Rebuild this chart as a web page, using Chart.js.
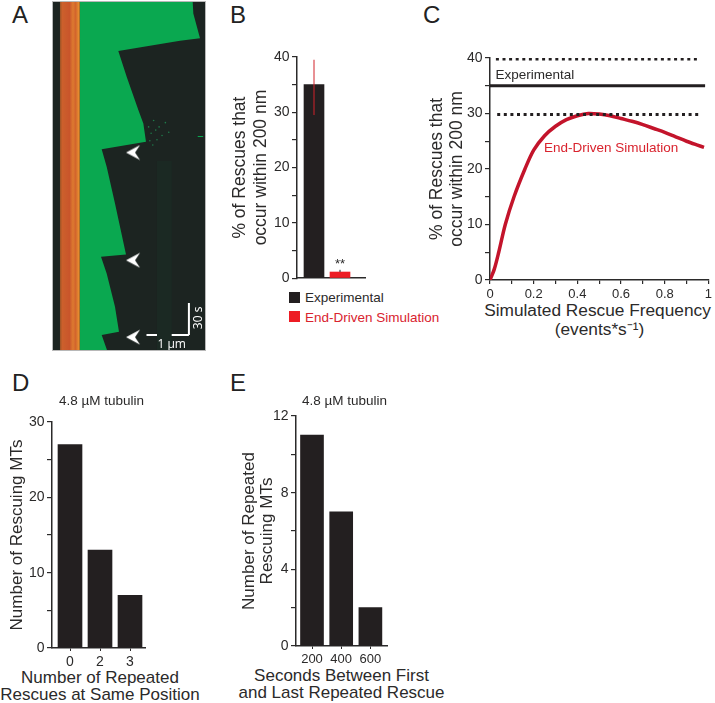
<!DOCTYPE html>
<html>
<head>
<meta charset="utf-8">
<title>Rescue position figure</title>
<script src="https://cdn.jsdelivr.net/npm/chart.js@4"></script>
<style>
    html, body { margin: 0; padding: 0; background: #fff; }
    body { position: relative; width: 715px; height: 703px; overflow: hidden; font-family: "Liberation Sans", Arial, sans-serif; color: #2b2a2a; }
    canvas { position: absolute; display: block; }
    .label { position: absolute; white-space: nowrap; line-height: 1; }
    .letter { font-size: 24px; color: #222; }
    .swatch { position: absolute; width: 11px; height: 11px; }
    .axis-title { position: absolute; white-space: nowrap; line-height: 1; transform: translate(-50%, -50%); font-size: 17px; }
</style>
</head>
<body>
<div class="label letter" style="left:12px;top:3px">A</div>
<div class="label letter" style="left:230px;top:3px">B</div>
<div class="label letter" style="left:423px;top:3px">C</div>
<div class="label letter" style="left:12px;top:371px">D</div>
<div class="label letter" style="left:230px;top:371px">E</div>

<div class="swatch" style="left:289px;top:292px;background:#231f20"></div>
<div class="label" style="left:305px;top:291px;font-size:13.5px">Experimental</div>
<div class="swatch" style="left:289px;top:311px;background:#ed1c24"></div>
<div class="label" style="left:305px;top:311px;font-size:13.5px;color:#d9232e">End-Driven Simulation</div>

<div class="axis-title" style="left:597.5px;top:311px;font-size:17.3px">Simulated Rescue Frequency</div>
<div class="axis-title" style="left:599.5px;top:330px;font-size:17.3px">(events*s⁻¹)</div>
<div class="axis-title" style="left:100px;top:677px">Number of Repeated</div>
<div class="axis-title" style="left:100px;top:694px">Rescues at Same Position</div>
<div class="axis-title" style="left:341.5px;top:675px">Seconds Between First</div>
<div class="axis-title" style="left:341.5px;top:692px">and Last Repeated Rescue</div>

<script>
    // Panel A: kymograph outlines, position in um, time in s
    const greenEdge = [[0.667, 0], [3.349, 0], [3.365, 11.6], [3.524, 35], [3.048, 37.2], [1.579, 46.9], [1.778, 70.9],
        [2.056, 102.2], [2.175, 114.7], [2.238, 131.9], [1.183, 139], [1.302, 155.3], [1.5, 189.7], [1.762, 237.5],
        [1.167, 239.7], [1.302, 255.3], [1.5, 286.6], [1.595, 310], [1.183, 313.1], [1.317, 328], [0.667, 328]];
    const seedBand = [[0.19, 0], [0.66, 0], [0.66, 328], [0.19, 328]];
    const dimStreak = [[2.5, 150], [2.85, 150], [2.85, 328], [2.5, 328]];
    const speckles = [[2.3, 118], [2.36, 124], [2.42, 112], [2.47, 121], [2.55, 118], [2.62, 126], [2.7, 114], [2.33, 131], [2.5, 130], [2.78, 123], [2.4, 135]];
    const seedLine = [[1.09, 0], [1.09, 328]];
    const rescueMarks = [[1.93, 142], [1.93, 243], [1.93, 315]];
    const strayMark = [[3.47, 127], [3.6, 127]];
    const scaleX = [[2.25, 313], [3.26, 313]];
    const scaleY = [[3.26, 283], [3.26, 313]];

    // Panel B
    const barLabels = ['Experimental', 'End-Driven Simulation'];
    const barValues = [35, 1.1];
    const barColors = ['#231f20', '#ed1c24'];
    const errorLow = 29.5;
    const errorHigh = 39.5;
    const simErrorHigh = 1.5;

    // Panel C
    const freq = [0, 0.02, 0.04, 0.07, 0.11, 0.16, 0.2, 0.25, 0.3, 0.35, 0.4, 0.45, 0.5, 0.55, 0.6, 0.65, 0.7, 0.75, 0.8, 0.85, 0.9, 0.95, 0.98];
    const simulated = [0, 2, 5, 10, 15, 20, 23.4, 26, 27.7, 28.9, 29.6, 30, 29.9, 29.6, 29.1, 28.6, 28, 27.3, 26.6, 25.8, 25, 24.3, 23.9];
    const experimental = [[0, 35], [0.985, 35]];
    const upperBound = [[0.027, 39.8], [0.96, 39.8]];
    const lowerBound = [[0.033, 29.8], [0.96, 29.8]];

    // Panel D
    const repeatLabels = ['0', '2', '3'];
    const repeatCounts = [27, 13, 7];

    // Panel E
    const secondsLabels = ['200', '400', '600'];
    const secondsCounts = [11, 7, 2];

    const INK = '#2b2a2a';
    const FONT = '"Liberation Sans", Arial, sans-serif';
    Chart.defaults.font.family = FONT;
    Chart.defaults.color = INK;
    Chart.defaults.animation = false;

    const toPoints = pairs => pairs.map(p => ({ x: p[0], y: p[1] }));

    // Writes small labels at data coordinates
    const panelText = {
        id: 'panelText',
        afterDatasetsDraw(chart, args, opts) {
            const ctx = chart.ctx;
            (opts.items || []).forEach(item => {
                ctx.save();
                ctx.font = `${item.size}px ${item.family || FONT}`;
                ctx.fillStyle = item.color || INK;
                ctx.textBaseline = 'middle';
                ctx.textAlign = item.align || 'left';
                ctx.translate(chart.scales.x.getPixelForValue(item.x), chart.scales.y.getPixelForValue(item.y));
                if (item.rotate) ctx.rotate(item.rotate);
                ctx.fillText(item.text, 0, 0);
                ctx.restore();
            });
        }
    };
    Chart.register(panelText);

    // Canvas placed so the plot area lands on a known rectangle
    function makeCanvas(box) {
        const canvas = document.createElement('canvas');
        canvas.width = box.left + box.plotW + box.right;
        canvas.height = box.top + box.plotH + box.bottom;
        canvas.style.left = (box.plotX - box.left) + 'px';
        canvas.style.top = (box.plotY - box.top) + 'px';
        document.body.appendChild(canvas);
        return canvas;
    }

    function yAxis(box, max, step, labelStep, title, titleSize, titleLine) {
        return {
            min: 0,
            max: max,
            afterFit: s => { s.width = box.left; },
            border: { color: INK, width: 1.5 },
            grid: { drawOnChartArea: false, color: INK, tickLength: 5, lineWidth: 1.2 },
            ticks: {
                stepSize: step,
                autoSkip: false,
                padding: 2.5,
                font: { size: 14 },
                callback: v => (v % labelStep === 0 ? String(v) : '')
            },
            title: { display: true, text: title, font: { size: titleSize, lineHeight: titleLine + 'px' }, padding: box.titlePad, color: INK }
        };
    }

    // Bars on a linear axis so the first bar can sit away from the y axis
    function barPanel(box, labels, values, colors, width, first, spacing, yOpts, tickLen, extra) {
        const positions = labels.map((l, i) => i + 1);
        const xMin = 1 - first / spacing;
        const xMax = xMin + box.plotW / spacing;
        const datasets = [{
            type: 'bar',
            data: values.map((v, i) => ({ x: positions[i], y: v })),
            backgroundColor: colors,
            barThickness: width,
            order: 2
        }].concat(extra ? extra.datasets : []);
        return new Chart(makeCanvas(box), {
            data: { datasets: datasets },
            options: {
                responsive: false,
                layout: { autoPadding: false, padding: { top: box.top, right: box.right } },
                plugins: { legend: { display: false }, tooltip: { enabled: false }, panelText: { items: (extra && extra.text) || [] } },
                scales: {
                    x: {
                        type: 'linear',
                        offset: false,
                        min: xMin,
                        max: xMax,
                        afterFit: s => { s.height = box.bottom; },
                        afterBuildTicks: s => { s.ticks = tickLen === null ? [] : positions.map(p => ({ value: p })); },
                        border: { color: INK, width: 1.5 },
                        grid: { offset: false, drawOnChartArea: false, drawTicks: !!tickLen, color: INK, tickLength: tickLen || 0 },
                        ticks: {
                            autoSkip: false,
                            maxRotation: 0,
                            padding: 3,
                            font: { size: box.xTickSize || 14 },
                            callback: v => labels[v - 1] || ''
                        }
                    },
                    y: yOpts
                }
            }
        });
    }

    // Panel A
    function fillShape(points, color) {
        return { data: toPoints(points), showLine: true, fill: 'shape', backgroundColor: color, borderWidth: 0, pointRadius: 0 };
    }

    function arrowheadSprite() {
        const c = document.createElement('canvas');
        c.width = 16;
        c.height = 16;
        const g = c.getContext('2d');
        g.fillStyle = '#fff';
        g.beginPath();
        g.moveTo(1, 8);
        g.lineTo(15, 0.5);
        g.lineTo(10, 8);
        g.lineTo(15, 15.5);
        g.closePath();
        g.fill();
        return c;
    }

    const boxA = { plotX: 52, plotY: 1, plotW: 154, plotH: 350, left: 0, right: 0, top: 0, bottom: 0 };
    const canvasA = makeCanvas(boxA);
    canvasA.style.background = '#1c2421';
    canvasA.style.outline = '1px solid #b8b8b8';
    canvasA.style.outlineOffset = '-1px';

    // Seed colour changes across its width
    const seedGradient = canvasA.getContext('2d').createLinearGradient(8, 0, 27, 0);
    seedGradient.addColorStop(0, '#9a5426');
    seedGradient.addColorStop(0.12, '#cc602c');
    seedGradient.addColorStop(0.5, '#c9552b');
    seedGradient.addColorStop(0.68, '#dd7a30');
    seedGradient.addColorStop(0.82, '#d2642c');
    seedGradient.addColorStop(1, '#e79030');

    new Chart(canvasA, {
        type: 'scatter',
        data: {
            datasets: [
                // the first dataset paints on top
                fillShape(greenEdge, '#0aa850'),
                fillShape(seedBand, seedGradient),
                fillShape(dimStreak, '#1b2923'),
                { data: toPoints(seedLine), showLine: true, borderColor: '#ffffff', borderWidth: 1.5, borderDash: [6, 4], pointRadius: 0 },
                { data: toPoints(rescueMarks), pointStyle: arrowheadSprite(), pointRadius: 8 },
                { data: toPoints(speckles), backgroundColor: '#1f7a4a', borderWidth: 0, pointRadius: 0.8 },
                { data: toPoints(strayMark), showLine: true, borderColor: '#0aa850', borderWidth: 1, pointRadius: 0 },
                { data: toPoints(scaleX), showLine: true, borderColor: '#ffffff', borderWidth: 2, pointRadius: 0 },
                { data: toPoints(scaleY), showLine: true, borderColor: '#ffffff', borderWidth: 2, pointRadius: 0 }
            ]
        },
        options: {
            responsive: false,
            layout: { autoPadding: false },
            plugins: {
                legend: { display: false },
                tooltip: { enabled: false },
                panelText: {
                    items: [
                        { x: 2.85, y: 322, text: '1 µm', size: 12, color: '#fff', align: 'center', family: '"Open Sans"' },
                        { x: 3.5, y: 297, text: '30 s', size: 12, color: '#fff', align: 'center', rotate: -Math.PI / 2, family: '"Open Sans"' }
                    ]
                }
            },
            scales: {
                x: { type: 'linear', display: false, min: 0, max: 3.667 },
                y: { type: 'linear', display: false, min: 0, max: 328, reverse: true }
            }
        }
    });

    // Panel B
    const boxB = { plotX: 297, plotY: 57, plotW: 68, plotH: 222, left: 69, right: 10, top: 12, bottom: 10, titlePad: { top: 2, bottom: 0 } };
    barPanel(boxB, barLabels, barValues, barColors, 20, 17, 26,
        yAxis(boxB, 40, 5, 10, ['% of Rescues that', 'occur within 200 nm'], 17.5, 21),
        null,
        {
            datasets: [{
                type: 'line',
                data: [{ x: 1, y: errorLow }, { x: 1, y: errorHigh }],
                borderColor: '#d2232a',
                borderWidth: 1,
                pointRadius: 0,
                order: 1
            }, {
                type: 'line',
                data: [{ x: 2, y: barValues[1] }, { x: 2, y: simErrorHigh }],
                borderColor: '#231f20',
                borderWidth: 1,
                pointRadius: 0,
                order: 1
            }],
            text: [{ x: 2, y: 2.4, text: '**', size: 13, align: 'center' }]
        });

    // Panel C
    const boxC = { plotX: 490, plotY: 58, plotW: 222, plotH: 222, left: 69, right: 3, top: 12, bottom: 25, titlePad: { top: 6, bottom: 0 } };
    new Chart(makeCanvas(boxC), {
        type: 'scatter',
        data: {
            datasets: [
                { data: toPoints(upperBound), showLine: true, borderColor: '#231f20', borderWidth: 3, borderDash: [3, 3.6], pointRadius: 0 },
                { data: toPoints(lowerBound), showLine: true, borderColor: '#231f20', borderWidth: 3, borderDash: [3, 3.6], pointRadius: 0 },
                { data: toPoints(experimental), showLine: true, borderColor: '#231f20', borderWidth: 3, pointRadius: 0 },
                { data: freq.map((f, i) => ({ x: f, y: simulated[i] })), showLine: true, borderColor: '#c3142b', borderWidth: 3.5, tension: 0.3, pointRadius: 0 }
            ]
        },
        options: {
            responsive: false,
            layout: { autoPadding: false, padding: { top: boxC.top, right: boxC.right } },
            plugins: {
                legend: { display: false },
                tooltip: { enabled: false },
                panelText: {
                    items: [
                        { x: 0.025, y: 36.8, text: 'Experimental', size: 13.5 },
                        { x: 0.247, y: 23.8, text: 'End-Driven Simulation', size: 13.5, color: '#d9232e' }
                    ]
                }
            },
            scales: {
                x: {
                    type: 'linear',
                    min: 0,
                    max: 1,
                    afterFit: s => { s.height = boxC.bottom; },
                    border: { color: INK, width: 1.5 },
                    grid: { drawOnChartArea: false, color: INK, tickLength: 4, lineWidth: 1.2 },
                    ticks: {
                        stepSize: 0.1,
                        autoSkip: false,
                        maxRotation: 0,
                        padding: 3,
                        font: { size: 13 },
                        callback: v => (Math.round(v * 10) % 2 === 0 ? String(Math.round(v * 10) / 10) : '')
                    }
                },
                y: yAxis(boxC, 40, 5, 10, ['% of Rescues that', 'occur within 200 nm'], 17.5, 20)
            }
        }
    });

    // Panel D
    const boxD = { plotX: 52, plotY: 422, plotW: 93, plotH: 226, left: 52, right: 10, top: 12, bottom: 22, titlePad: { top: 8, bottom: 0 } };
    barPanel(boxD, repeatLabels, repeatCounts, '#231f20', 24, 18, 30,
        yAxis(boxD, 30, 5, 10, ['Number of Rescuing MTs'], 17, 19),
        3);

    // Panel E
    const boxE = { plotX: 296, plotY: 416, plotW: 91, plotH: 230, left: 57, right: 10, top: 12, bottom: 22, xTickSize: 13, titlePad: { top: 1, bottom: 0 } };
    barPanel(boxE, secondsLabels, secondsCounts, '#231f20', 23, 16, 29.2,
        yAxis(boxE, 12, 2, 4, ['Number of Repeated', 'Rescuing MTs'], 17, 18),
        3);
</script>
<div class="label" style="left:59px;top:394px;font-size:13.5px">4.8 µM tubulin</div>
<div class="label" style="left:302px;top:394px;font-size:13.5px">4.8 µM tubulin</div>
</body>
</html>
